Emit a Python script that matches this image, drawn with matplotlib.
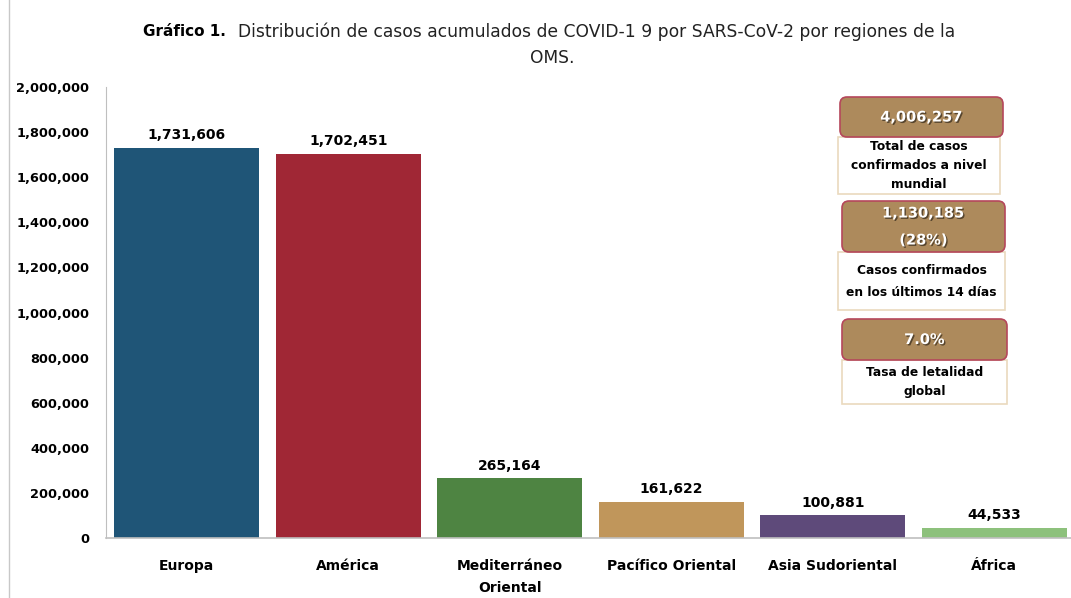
import matplotlib.pyplot as plt
import matplotlib.patheffects as pe
from matplotlib.patches import FancyBboxPatch, Rectangle
from matplotlib.lines import Line2D
from matplotlib.ticker import FuncFormatter

regiones = ['Europa', 'América', 'Mediterráneo\nOriental', 'Pacífico Oriental',
            'Asia Sudoriental', 'África']
casos = [1731606, 1702451, 265164, 161622, 100881, 44533]
colores = ['#1f5577', '#a02735', '#4e8442', '#c0965b', '#5e4a7a', '#8dc17c']

resumen_valor = ['4,006,257', '1,130,185\n(28%)', '7.0%']
resumen_texto = ['Total de casos\nconfirmados a nivel\nmundial',
                 'Casos confirmados\nen los últimos 14 días',
                 'Tasa de letalidad\nglobal']

plt.rcParams['font.family'] = 'DejaVu Sans'

fig = plt.figure(figsize=(10.71, 5.98), dpi=100)
ax = fig.add_axes([106 / 1071, 60 / 598, 969 / 1071, 451 / 598])

x = range(len(regiones))
bars = ax.bar(x, casos, width=0.9, color=colores)
for i, v in enumerate(casos):
    ax.text(i, v + 25000, f'{v:,}', ha='center', va='bottom',
            fontsize=10, fontweight='bold')

ax.set_xlim(-0.5, 5.5)
ax.set_ylim(0, 2000000)
ax.set_yticks(range(0, 2000001, 200000))
ax.yaxis.set_major_formatter(FuncFormatter(lambda v, p: f'{int(v):,}'))
ax.set_xticks(list(x))
ax.set_xticklabels(regiones, fontsize=10, fontweight='bold', linespacing=1.7)
for lbl in ax.get_yticklabels():
    lbl.set_fontweight('bold')
    lbl.set_fontsize(9.3)
ax.tick_params(axis='both', length=0)
ax.tick_params(axis='y', pad=12)
ax.tick_params(axis='x', pad=15)
for s in ['top', 'right']:
    ax.spines[s].set_visible(False)
ax.spines['left'].set_color('#bfbfbf')
ax.spines['bottom'].set_color('#bfbfbf')
ax.spines['bottom'].set_linewidth(1.2)

# capa en pixeles para titulo y cuadros
ov = fig.add_axes([0, 0, 1, 1], facecolor='none')
ov.set_xlim(0, 1071)
ov.set_ylim(598, 0)
ov.axis('off')

ov.add_line(Line2D([9, 9], [0, 598], color='#c8c8c8', lw=1))

ov.text(143, 32, 'Gráfico 1.', fontsize=11, fontweight='bold', va='center')
ov.text(238, 32, 'Distribución de casos acumulados de COVID-1 9 por SARS-CoV-2 por regiones de la',
        fontsize=12.3, va='center', color='#222222')
ov.text(552, 58, 'OMS.', fontsize=12.3, va='center', ha='center', color='#222222')

cajas = [(840, 97, 163, 40, 838, 137, 162, 57),
         (842, 201, 163, 51, 838, 252, 167, 58),
         (842, 319, 165, 41, 842, 360, 165, 44)]
espacio = [1.6, 1.9, 1.6]
for (bx, by, bw, bh, tx, ty, tw, th), val, txt, ls in zip(cajas, resumen_valor,
                                                          resumen_texto, espacio):
    ov.add_patch(Rectangle((tx, ty), tw, th, facecolor='white',
                           edgecolor='#ead9be', lw=1.2))
    ov.add_patch(FancyBboxPatch((bx, by), bw, bh,
                                boxstyle='round,pad=0,rounding_size=7',
                                facecolor='#ad8a5c', edgecolor='#b5475b', lw=1.2))
    ov.text(bx + bw / 2, by + bh / 2, val, ha='center', va='center',
            color='white', fontsize=10.5, fontweight='bold', linespacing=2.0,
            path_effects=[pe.SimplePatchShadow(offset=(1, -1), shadow_rgbFace='k', alpha=0.5),
                          pe.Normal()])
    ov.text(tx + tw / 2, ty + th / 2, txt, ha='center', va='center',
            fontsize=8.8, fontweight='bold', linespacing=ls)

fig.savefig('out.png', dpi=100)
